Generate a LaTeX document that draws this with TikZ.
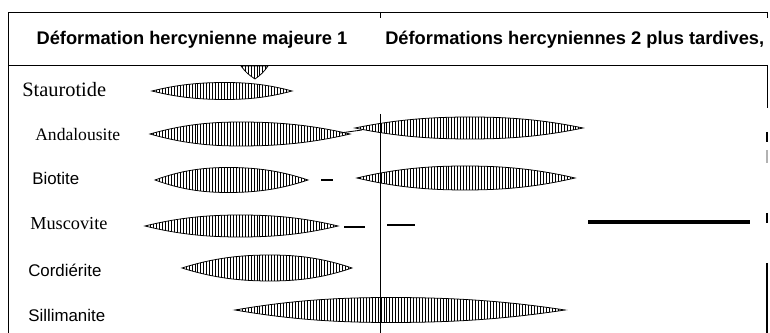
\documentclass[tikz,border=0pt]{standalone}
\usepackage{fontspec}
\setmainfont{Liberation Serif}
\setsansfont{Liberation Sans}
\usetikzlibrary{patterns.meta}

% fuseau hachure : gauche, sommet, droite, hauteur, demi-epaisseur
\newcommand{\fuseau}[5]{%
  \path[lens] (#1,#4)
    .. controls ({#1+0.35*(#2-#1)},{#4-0.75*#5}) and ({#2-0.35*(#2-#1)},{#4-#5}) .. (#2,{#4-#5})
    .. controls ({#2+0.35*(#3-#2)},{#4-#5}) and ({#3-0.35*(#3-#2)},{#4-0.75*#5}) .. (#3,#4)
    .. controls ({#3-0.35*(#3-#2)},{#4+0.75*#5}) and ({#2+0.35*(#3-#2)},{#4+#5}) .. (#2,{#4+#5})
    .. controls ({#2-0.35*(#2-#1)},{#4+#5}) and ({#1+0.35*(#2-#1)},{#4+0.75*#5}) .. cycle;}

\begin{document}
\begin{tikzpicture}[x=0.025cm, y=-0.025cm,
    lens/.style={draw, line width=0.55pt, pattern={Lines[angle=90,distance=2.1pt,line width=0.55pt]}},
    titre/.style={font=\sffamily\bfseries\fontsize{13}{15}\selectfont, inner sep=0pt},
    serif/.style={font=\fontsize{13}{15}\selectfont, inner sep=0pt, anchor=base west},
    sans/.style={font=\sffamily\fontsize{12}{14}\selectfont, inner sep=0pt, anchor=base west}]
        \useasboundingbox (0,0) rectangle (770,333);

        % cadre
        \path[draw, line width=0.6pt](8,333) to (8,12) to (767,12);
        \path[draw, line width=0.6pt](767,12) to (767,18);
        \path[draw, line width=0.6pt](8,65) to (767,65);
        \path[draw, line width=0.6pt](767,65) to (767,108);
        \path[draw, line width=0.6pt](380,12) to (380,18);
        \path[draw, line width=0.5pt](380,114) to (380,333);

        % titres
        \node[titre, anchor=base] (titreA) at (192,45) {Déformation hercynienne majeure 1};
        \node[titre, anchor=base west] (titreB) at (385,45) {Déformations hercyniennes 2 plus tardives,};

        % mineraux
        \node[serif, font=\fontsize{14.5}{16}\selectfont] (stau) at (22,97) {Staurotide};
        \node[serif, font=\fontsize{12.5}{15}\selectfont] (anda) at (35,141) {Andalousite};
        \node[sans] (biot) at (32,185) {Biotite};
        \node[serif] (musc) at (30,230) {Muscovite};
        \node[sans] (cord) at (28,277) {Cordiérite};
        \node[sans] (sill) at (28,322) {Sillimanite};

        % pointe sous le trait
        \path[lens](241,66) to[bend right=10] (255,79) to[bend right=10] (268,66) -- cycle;

        % staurotide
        \fuseau{152}{225}{292}{91}{8.5}
        % andalousite
        \fuseau{150}{240}{350}{134}{12}
        \path[draw, line width=0.6pt](340,133) to (362,130);
        \fuseau{355}{470}{583}{128}{11}
        % biotite
        \fuseau{155}{228}{308}{180}{12.5}
        \path[draw, line width=1pt](321,180) to (333,180);
        \fuseau{357}{465}{575}{178}{12}
        % muscovite
        \fuseau{145}{240}{338}{226}{11}
        \path[draw, line width=1pt](344,227) to (365,227);
        \path[draw, line width=1pt](387,225) to (415,225);
        \path[draw, line width=2.5pt](588,222) to (750,222);
        % cordierite
        \fuseau{182}{270}{352}{268}{13}
        % sillimanite
        \fuseau{235}{390}{565}{310}{12.5}

        % bord droit
        \path[draw, line width=1.2pt](767,132) to (767,142);
        \path[draw, line width=1.2pt, gray!60](767,150) to (767,163);
        \path[draw, line width=2pt](767,213) to (767,223);
        \path[draw, line width=0.8pt](767,263) to (767,333);
\end{tikzpicture}
\end{document}
